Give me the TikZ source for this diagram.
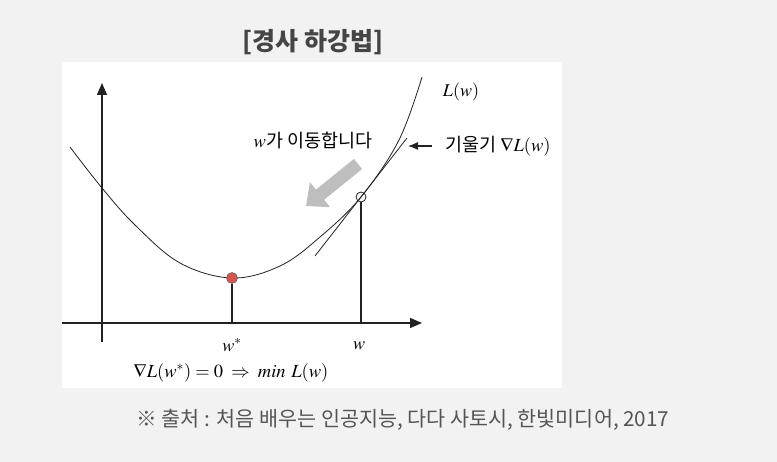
\documentclass[tikz,border=0pt]{standalone}
\usepackage{mathptmx}
\usepackage{fontspec}
\newfontfamily\kr{Noto Sans CJK KR}
\usetikzlibrary{arrows.meta,positioning}
\definecolor{pagegray}{HTML}{F2F2F2}
\definecolor{titlegray}{HTML}{454545}
\definecolor{notegray}{HTML}{555555}
\definecolor{movegray}{HTML}{BEBEBE}
\definecolor{dotred}{HTML}{D9534F}
\definecolor{ink}{HTML}{222222}
\tikzset{
  axisline/.style={draw=ink,line width=1.4pt,-{Triangle[length=12pt,width=10pt]}},
  dropline/.style={draw=ink,line width=1.1pt},
  lossline/.style={draw=ink,line width=0.8pt},
  tangentline/.style={draw=ink,line width=0.8pt},
  movearrow/.style={draw=movegray,line width=13pt,-{Triangle[length=18pt,width=31pt]}},
  labelarrow/.style={draw=ink,line width=1.1pt,-{Latex[length=10pt,width=8pt]}},
  reddot/.style={circle,draw=ink!70,line width=0.6pt,fill=dotred,minimum size=11pt,inner sep=0pt},
  opendot/.style={circle,draw=ink,line width=0.8pt,minimum size=10pt,inner sep=0pt},
  mathlabel/.style={font=\fontsize{18}{21}\selectfont,inner sep=1pt},
  krlabel/.style={font=\kr\fontsize{18.5}{22}\selectfont,inner sep=1pt}
}
\begin{document}
\begin{tikzpicture}[x=1pt,y=-1pt]
  \useasboundingbox[fill=pagegray] (0,0) rectangle (777,462);
  \fill[white] (62,62) rectangle (562,388);
  % title and source
  \node[font=\kr\bfseries\fontsize{25}{29}\selectfont,text=titlegray] (title) at (313,42) {[경사 하강법]};
  \node[font=\kr\fontsize{20.7}{24}\selectfont,text=notegray] (source) at (403,420) {※ 출처 : 처음 배우는 인공지능, 다다 사토시, 한빛미디어, 2017};
  % axes
  \coordinate (xstart) at (62,323);
  \coordinate (xend) at (422,323);
  \coordinate (ybot) at (102,342);
  \coordinate (ytop) at (102,83);
  \draw[axisline] (xstart) -- (xend);
  \draw[axisline] (ybot) -- (ytop);
  % loss curve and tangent
  \draw[lossline] plot[smooth,tension=0.6] coordinates {(70,147) (102,188) (135,225) (180,263) (232,278) (280,266) (320,237) (361,197) (399,140) (422,77)};
  \coordinate (tanlo) at (315,256);
  \coordinate (tanhi) at (407,138);
  \draw[tangentline] (tanlo) -- (tanhi);
  % points on the curve
  \node[reddot] (wmin) at (232,278) {};
  \node[opendot] (wnow) at (361,197) {};
  \coordinate (wminaxis) at (232,323);
  \coordinate (wnowaxis) at (361,323);
  \draw[dropline] (wmin) -- (wminaxis);
  \draw[dropline] (wnow) -- (wnowaxis);
  % move direction
  \coordinate (movetail) at (358,164);
  \coordinate (movetip) at (306,206);
  \draw[movearrow] (movetail) -- (movetip);
  % labels
  \node[mathlabel] (losslabel) at (461,92) {$L(w)$};
  \node[krlabel,anchor=west] (gradlabel) at (444,146) {기울기 $\nabla L(w)$};
  \coordinate (slopetail) at (432,146);
  \coordinate (slopetip) at (408,146);
  \draw[labelarrow] (slopetail) -- (slopetip);
  \node[krlabel] (movelabel) at (313,141) {$w$가 이동합니다};
  \node[mathlabel] (wminlabel) at (232,345) {$w^{*}$};
  \node[mathlabel] (wnowlabel) at (359,346) {$w$};
  \node[mathlabel,font=\fontsize{18.5}{22}\selectfont] (minlabel) at (231,373) {$\nabla L(w^{*})=0\;\Rightarrow\;min\ L(w)$};
\end{tikzpicture}
\end{document}
